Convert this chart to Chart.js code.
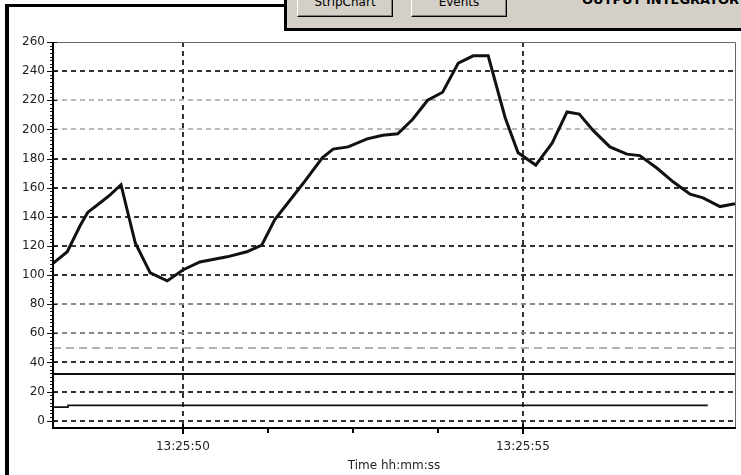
<!DOCTYPE html>
<html><head><meta charset="utf-8">
<script src="https://cdn.jsdelivr.net/npm/chart.js@4"></script>
<style>
html,body{margin:0;padding:0;background:#fff;width:741px;height:475px;overflow:hidden;position:relative;}
#frame{position:absolute;left:5px;top:4px;width:800px;height:600px;border-left:4px solid #000;border-top:3px solid #000;}
#panel{position:absolute;left:284px;top:-10px;width:470px;height:38px;background:#d4d0c8;border-left:3px solid #000;border-bottom:3px solid #000;overflow:hidden;font:12px "DejaVu Sans",sans-serif;color:#000;}
.btn{position:absolute;top:0;height:27px;width:96px;box-sizing:border-box;border-top:1px solid #fff;border-left:1px solid #fff;border-right:1px solid #000;border-bottom:1px solid #000;box-shadow:inset -1px -1px #808080;}
.btn span{position:absolute;left:0;right:0;top:5px;text-align:center;line-height:12px;}
#hdr{position:absolute;left:295px;top:4px;line-height:12px;font-weight:bold;font-size:13px;white-space:nowrap;}
#c{position:absolute;left:0;top:0;}
</style></head>
<body>
<div id="frame"></div>
<div id="panel">
  <div class="btn" style="left:10px"><span>StripChart</span></div>
  <div class="btn" style="left:124px"><span>Events</span></div>
  <div id="hdr">OUTPUT INTEGRATOR</div>
</div>
<canvas id="c" width="741" height="475"></canvas>
<script>
// seconds after 13:25:00
const times = [48.09,48.30,48.49,48.60,48.78,48.93,49.09,49.30,49.52,49.77,50.00,50.25,50.65,50.94,51.16,51.35,51.77,52.05,52.21,52.43,52.71,52.94,53.16,53.38,53.60,53.82,54.05,54.27,54.49,54.74,54.93,55.19,55.43,55.65,55.83,56.03,56.28,56.53,56.72,56.97,57.21,57.46,57.65,57.90,58.12];
const values = [108,116,134,143,149.5,155,162,122,101.5,96,103.5,109,112.5,116,120.5,138,163,180.5,186.5,188,193.5,196,197,207,220,225.5,245.5,250.5,250.5,208,184,175.5,190.5,212,210.5,199.5,188,183,182,173.5,164,155.5,153,147,149];
const lowTimes = [48.09,48.30,48.31,57.72];
const lowValues = [9.3,9.3,10.5,10.5];
const upperLimitTimes = [48.09,58.12];
const upperLimitValues = [32,32];
const alarmTimes = [48.09,58.12];
const alarmValues = [50,50];
const xRange = [48.09,58.12];
const yRange = [-5,260];
const xTickValues = [50,55];
const xTickLabels = ['13:25:50','13:25:55'];
const xMinorTicks = [51.25,52.5,53.75];
const yTickValues = [0,20,40,60,80,100,120,140,160,180,200,220,240,260];
const yMinorStep = 2.5;
const lightY = [200,220];
const midY = [60,80];

const pts = (xs, ys) => xs.map((x,i)=>({x, y: ys[i]}));
const FONT = {family:'"DejaVu Sans", sans-serif', size:12};

const framePlugin = {
  id:'frame',
  afterDatasetsDraw(chart){
    const {ctx, chartArea:a, scales:{x,y}} = chart;
    ctx.save();
    ctx.strokeStyle='#666'; ctx.lineWidth=1;
    ctx.beginPath(); ctx.moveTo(a.left, a.top+0.5); ctx.lineTo(a.right+0.5, a.top+0.5); ctx.lineTo(a.right+0.5, a.bottom); ctx.stroke();
    ctx.strokeStyle='#000'; ctx.lineWidth=2;
    ctx.beginPath(); ctx.moveTo(a.left, a.top); ctx.lineTo(a.left, a.bottom); ctx.lineTo(a.right+1, a.bottom); ctx.stroke();
    ctx.lineWidth=1; ctx.strokeStyle='#111';
    for (let v=yTickValues[0]; v<=yTickValues[yTickValues.length-1]; v+=yMinorStep){
      const py=Math.round(y.getPixelForValue(v))+0.5;
      const major = yTickValues.includes(v);
      ctx.beginPath(); ctx.moveTo(a.left-(major?6:3), py); ctx.lineTo(a.left+(major?4:0), py); ctx.stroke();
    }
    ctx.lineWidth=2; ctx.strokeStyle='#000';
    xTickValues.forEach(v=>{ const px=Math.round(x.getPixelForValue(v));
      ctx.beginPath(); ctx.moveTo(px, a.bottom-4); ctx.lineTo(px, a.bottom+6); ctx.stroke(); });
    xMinorTicks.forEach(v=>{ const px=Math.round(x.getPixelForValue(v));
      ctx.beginPath(); ctx.moveTo(px, a.bottom); ctx.lineTo(px, a.bottom+5); ctx.stroke(); });
    ctx.restore();
  }
};

new Chart(document.getElementById('c'), {
  type:'line',
  data:{datasets:[
    {data:pts(times,values), borderColor:'#111', borderWidth:3, pointRadius:0, tension:0, order:1},
    {data:pts(upperLimitTimes,upperLimitValues), borderColor:'#111', borderWidth:2, pointRadius:0, order:2},
    {data:pts(lowTimes,lowValues), borderColor:'#111', borderWidth:1.6, pointRadius:0, order:3},
    {data:pts(alarmTimes,alarmValues), borderColor:'#b4b4b4', borderWidth:2, borderDash:[8,5], pointRadius:0, order:4}
  ]},
  options:{
    responsive:false, animation:false, devicePixelRatio:1,
    layout:{padding:{left:0, top:42, right:6, bottom:0}},
    plugins:{legend:{display:false}, tooltip:{enabled:false}},
    scales:{
      x:{type:'linear', min:xRange[0], max:xRange[1],
        afterBuildTicks:s=>{s.ticks = xTickValues.map(v=>({value:v}));},
        afterFit:s=>{s.height=47;},
        ticks:{autoSkip:false, maxRotation:0, padding:12, color:'#222', font:FONT,
          callback:v=>xTickLabels[xTickValues.indexOf(v)]},
        grid:{color:'#333', lineWidth:2, drawTicks:false},
        border:{display:false, dash:[5,4]},
        title:{display:true, text:'Time hh:mm:ss', color:'#222', font:FONT, padding:{top:0,bottom:2}}
      },
      y:{type:'linear', min:yRange[0], max:yRange[1],
        afterBuildTicks:s=>{s.ticks = yTickValues.map(v=>({value:v}));},
        afterFit:s=>{s.width=53;},
        ticks:{autoSkip:false, padding:8, color:'#222', font:FONT},
        grid:{drawTicks:false,
          color:c=>{const v=c.tick&&c.tick.value; if(v===yTickValues[yTickValues.length-1]) return 'rgba(0,0,0,0)';
            if(lightY.includes(v)) return '#b8b8b8'; if(midY.includes(v)) return '#888'; return '#333';},
          lineWidth:2},
        border:{display:false, dash:[5,4]}
      }
    }
  },
  plugins:[framePlugin]
});
</script>
</body></html>
